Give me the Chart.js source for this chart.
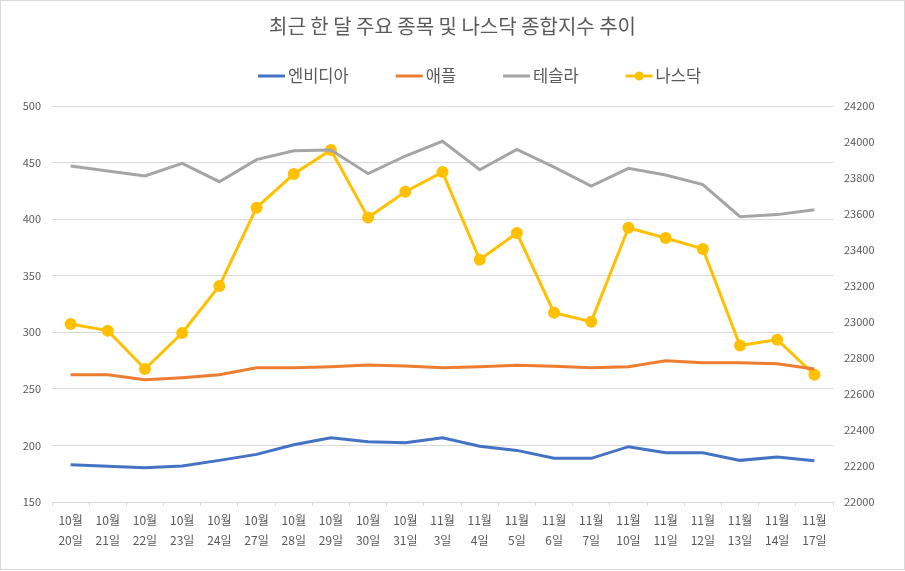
<!DOCTYPE html>
<html lang="ko">
<head>
<meta charset="utf-8">
<title>최근 한 달 주요 종목 및 나스닥 종합지수 추이</title>
<script src="https://cdn.jsdelivr.net/npm/chart.js@4.4.1/dist/chart.umd.min.js"></script>
<style>
    html, body { margin: 0; padding: 0; background: #fff; }
    #wrap { width: 905px; height: 571px; }
</style>
</head>
<body>
<div id="wrap"><canvas id="canvas" width="905" height="571"></canvas></div>
<script>
/* 데이터 */

const dias = [
    ['10월', '20일'], ['10월', '21일'], ['10월', '22일'], ['10월', '23일'], ['10월', '24일'],
    ['10월', '27일'], ['10월', '28일'], ['10월', '29일'], ['10월', '30일'], ['10월', '31일'],
    ['11월', '3일'], ['11월', '4일'], ['11월', '5일'], ['11월', '6일'], ['11월', '7일'],
    ['11월', '10일'], ['11월', '11일'], ['11월', '12일'], ['11월', '13일'], ['11월', '14일'],
    ['11월', '17일']
];

const nvidia = [183, 181.5, 180.3, 181.8, 186.8, 192.1, 200.6, 206.8, 203.3, 202.4,
    206.8, 199.2, 195.6, 188.6, 188.6, 198.9, 193.6, 193.6, 186.8, 189.8, 186.5];

const apple = [262.5, 262.5, 258, 259.9, 262.5, 268.7, 268.7, 269.6, 271.1, 270.2,
    268.7, 269.6, 270.8, 269.9, 268.7, 269.6, 274.9, 273.1, 273.1, 272.2, 267.5];

const tesla = [447, 442.5, 438.1, 449.3, 433.1, 452.6, 460.5, 461.1, 440.2, 455.8,
    468.8, 443.7, 461.7, 446, 429.3, 444.9, 439, 430.5, 402.2, 404, 408.4];

const nasdaq = [22989, 22952, 22739, 22939, 23200, 23635, 23822, 23956, 23580, 23724,
    23833, 23346, 23494, 23052, 23002, 23524, 23467, 23406, 22869, 22902, 22707];

const ejeIzq = { min: 150, max: 500, paso: 50 };
const ejeDer = { min: 22000, max: 24200, paso: 200 };

const gris = '#595959';
const lineaGrid = '#d9d9d9';
const fuente = "'Noto Sans CJK KR', 'Noto Sans', sans-serif";

/* fondo y marco */

const fondo = {
    id: 'fondo',
    beforeDraw(chart) {
        const c = chart.ctx;
        c.save();
        c.fillStyle = '#fff';
        c.fillRect(0, 0, chart.width, chart.height);
        c.strokeStyle = '#d9d9d9';
        c.lineWidth = 1;
        c.strokeRect(0.5, 0.5, chart.width - 1, chart.height - 2);
        c.restore();
    }
};

/* leyenda a mano, como en Excel */

const leyenda = {
    id: 'leyenda',
    afterDraw(chart) {
        const c = chart.ctx;
        let x = 258;
        const y = 76;
        c.save();
        c.font = '16.5px ' + fuente;
        c.textBaseline = 'middle';
        chart.data.datasets.forEach(function(ds) {
            c.strokeStyle = ds.borderColor;
            c.lineWidth = 3;
            c.beginPath();
            c.moveTo(x, y);
            c.lineTo(x + 27, y);
            c.stroke();
            if (ds.pointRadius > 0) {
                c.fillStyle = ds.borderColor;
                c.beginPath();
                c.arc(x + 13.5, y, 4.5, 0, Math.PI * 2);
                c.fill();
            }
            c.fillStyle = gris;
            c.fillText(ds.label, x + 30, y);
            x += 30 + c.measureText(ds.label).width + 47;
        });
        c.restore();
    }
};

/* grafica */

const ctx = document.getElementById('canvas');

var data = {
    labels: dias,
    datasets: [{
        label: '엔비디아',
        data: nvidia,
        yAxisID: 'y',
        borderColor: '#4472C4',
        backgroundColor: '#4472C4',
        borderWidth: 3,
        pointRadius: 0
    }, {
        label: '애플',
        data: apple,
        yAxisID: 'y',
        borderColor: '#ED7D31',
        backgroundColor: '#ED7D31',
        borderWidth: 3,
        pointRadius: 0
    }, {
        label: '테슬라',
        data: tesla,
        yAxisID: 'y',
        borderColor: '#A5A5A5',
        backgroundColor: '#A5A5A5',
        borderWidth: 3,
        pointRadius: 0
    }, {
        label: '나스닥',
        data: nasdaq,
        yAxisID: 'y1',
        borderColor: '#FFC000',
        backgroundColor: '#FFC000',
        borderWidth: 3,
        pointRadius: 6,
        pointBorderWidth: 0
    }]
};

var options = {
    responsive: false,
    animation: false,
    layout: { padding: 0 },
    elements: { line: { tension: 0 } },
    plugins: {
        legend: { display: false },
        tooltip: { enabled: false },
        title: {
            display: true,
            text: '최근 한 달 주요 종목 및 나스닥 종합지수 추이',
            color: gris,
            font: { family: fuente, size: 20, weight: 'normal' },
            padding: { top: 14, bottom: 68 }
        }
    },
    scales: {
        x: {
            offset: true,
            afterFit(scale) { scale.height = 69; },
            grid: {
                offset: true,
                drawOnChartArea: false,
                drawTicks: true,
                tickLength: 4,
                color: lineaGrid
            },
            border: { color: lineaGrid },
            ticks: {
                color: gris,
                font: { family: fuente, size: 12, lineHeight: 1.7 },
                padding: 4,
                maxRotation: 0,
                autoSkip: false
            }
        },
        y: {
            position: 'left',
            min: ejeIzq.min,
            max: ejeIzq.max,
            afterFit(scale) { scale.width = 52; },
            grid: { color: lineaGrid, drawTicks: false },
            border: { display: false },
            ticks: {
                stepSize: ejeIzq.paso,
                color: gris,
                padding: 11,
                font: { family: fuente, size: 11 }
            }
        },
        y1: {
            position: 'right',
            min: ejeDer.min,
            max: ejeDer.max,
            afterFit(scale) { scale.width = 72; },
            grid: { drawOnChartArea: false, drawTicks: false },
            border: { display: false },
            ticks: {
                stepSize: ejeDer.paso,
                color: gris,
                padding: 11,
                font: { family: fuente, size: 11 },
                callback: function(v) { return String(v); }
            }
        }
    }
};

var chart1 = new Chart(ctx, {
    type: 'line',
    data: data,
    options: options,
    plugins: [fondo, leyenda]
});
</script>
</body>
</html>
